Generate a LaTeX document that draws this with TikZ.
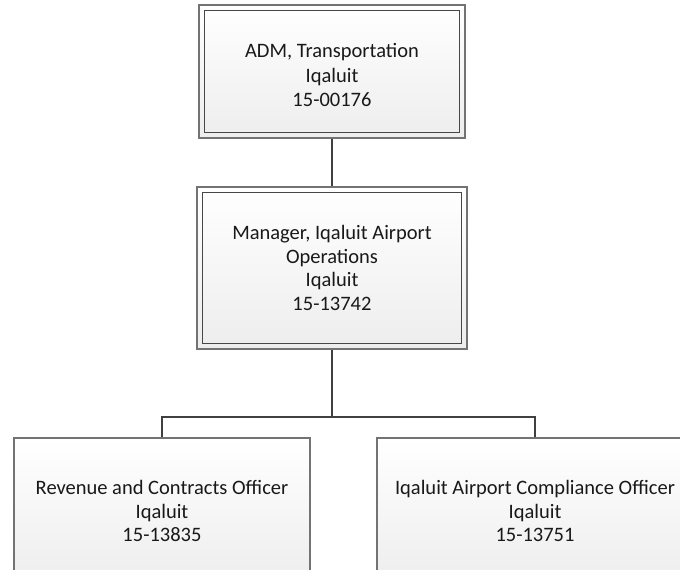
\documentclass[tikz,border=0pt]{standalone}
\usepackage{fontspec}
\setmainfont{Carlito}
\begin{document}
\begin{tikzpicture}[x=1pt,y=-1pt,
  box/.style={draw=black!55, line width=1.2pt, top color=white, bottom color=black!7,
    align=center, inner sep=0pt, font=\fontsize{20.5}{23.5}\selectfont, text=black!90},
  inner/.style={draw=black!72, line width=1.2pt},
  conn/.style={draw=black!75, line width=2.6pt}]
\useasboundingbox (0,0) rectangle (680,570);
\clip (0,0) rectangle (680,570);
\node[box, minimum width=266pt, minimum height=133pt] (top) at (332,71.5) {};
\node[align=center, font=\fontsize{20.5}{24.5}\selectfont, text=black!90] (toptext) at (332,75)
  {ADM, Transportation\\Iqaluit\\15-00176};
\draw[inner] ([shift={(6,6)}]top.north west) rectangle ([shift={(-6,-6)}]top.south east);
\node[box, minimum width=270pt, minimum height=162pt] (mgr) at (332,268)
  {Manager, Iqaluit Airport\\Operations\\Iqaluit\\15-13742};
\draw[inner] ([shift={(6,6)}]mgr.north west) rectangle ([shift={(-6,-6)}]mgr.south east);
\node[box, minimum width=296pt, minimum height=146pt] (left) at (162,511)
  {Revenue and Contracts Officer\\Iqaluit\\15-13835};
\node[box, minimum width=316pt, minimum height=146pt] (right) at (535,511)
  {Iqaluit Airport Compliance Officer\\Iqaluit\\15-13751};
\coordinate (bus) at (332,417);
\draw[conn] (top.south) -- (mgr.north);
\draw[conn] (mgr.south) -- (bus);
\draw[conn] (bus) -| (left.north);
\draw[conn] (bus) -| (right.north);
\end{tikzpicture}
\end{document}
